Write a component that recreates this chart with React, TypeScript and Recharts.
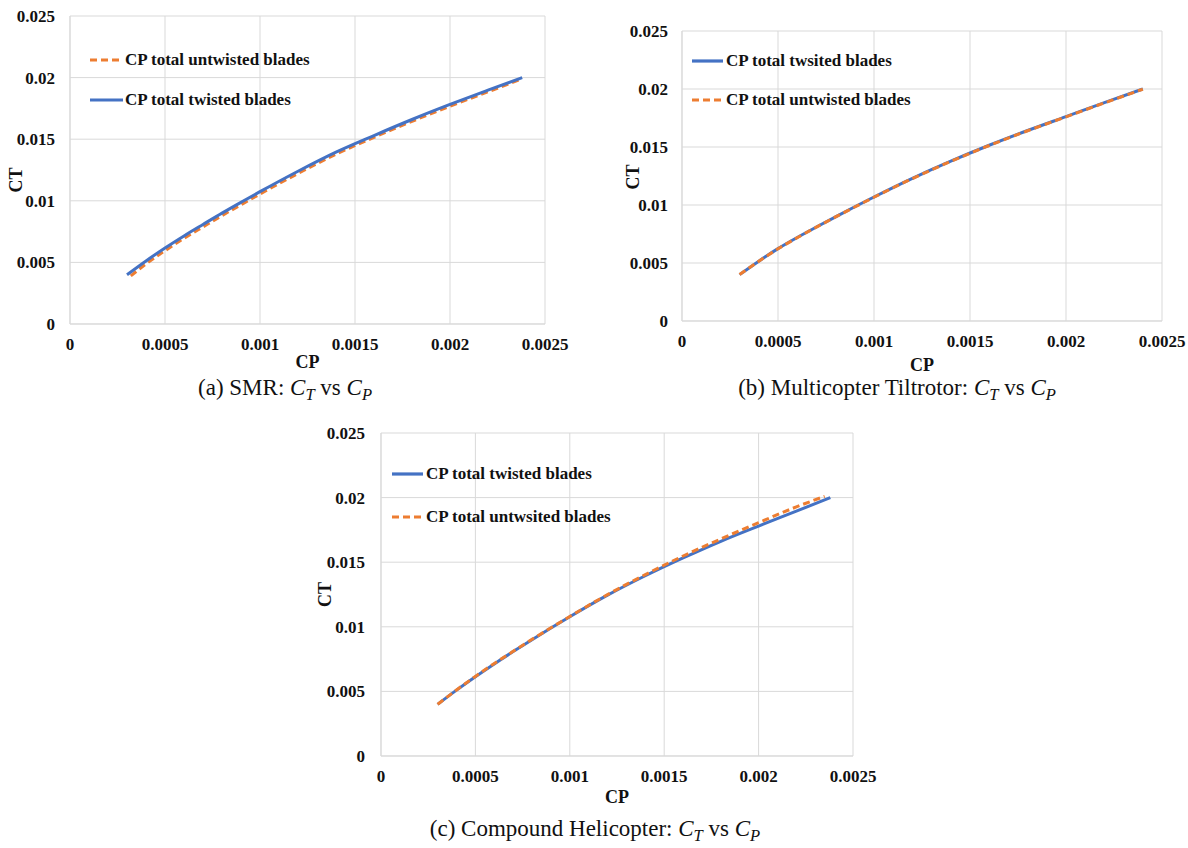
import React from 'react';
import { LineChart, Line, XAxis, YAxis, CartesianGrid, Legend, Label } from 'recharts';

const FONT = '"Liberation Serif", "Times New Roman", Times, serif';
const BLUE = '#4472C4';
const ORANGE = '#ED7D31';
const GRID = '#d9d9d9';
const TEXT = '#111111';

const X_TICKS = [0, 0.0005, 0.001, 0.0015, 0.002, 0.0025];
const Y_TICKS = [0, 0.005, 0.01, 0.015, 0.02, 0.025];

// (a) SMR
const CP_A_TWISTED = [0.0003, 0.0004, 0.0005, 0.0006, 0.0007, 0.0008, 0.0009, 0.001, 0.0012, 0.0014, 0.0016, 0.0018, 0.002, 0.0022, 0.00238];
const CT_A_TWISTED = [0.004, 0.00512, 0.00617, 0.00715, 0.00808, 0.009, 0.00988, 0.01074, 0.0124, 0.01395, 0.0153, 0.0166, 0.01782, 0.01898, 0.02];
const CP_A_UNTWISTED = [0.00032, 0.0004, 0.0005, 0.0006, 0.0007, 0.0008, 0.0009, 0.001, 0.0012, 0.0014, 0.0016, 0.0018, 0.002, 0.0022, 0.00238];
const CT_A_UNTWISTED = [0.0039, 0.00488, 0.00595, 0.00695, 0.00788, 0.0088, 0.00968, 0.01055, 0.01222, 0.01378, 0.01515, 0.01645, 0.01768, 0.01885, 0.0199];

// (b) Multicopter Tiltrotor
const CP_B_TWISTED = [0.0003, 0.0004, 0.0005, 0.0006, 0.0007, 0.0008, 0.0009, 0.001, 0.0012, 0.0014, 0.0016, 0.0018, 0.002, 0.0022, 0.0024];
const CT_B_TWISTED = [0.004, 0.00516, 0.00624, 0.0072, 0.0081, 0.00898, 0.00985, 0.01069, 0.0123, 0.01378, 0.01515, 0.01642, 0.01762, 0.01882, 0.02];
const CP_B_UNTWISTED = [0.0003, 0.0004, 0.0005, 0.0006, 0.0007, 0.0008, 0.0009, 0.001, 0.0012, 0.0014, 0.0016, 0.0018, 0.002, 0.0022, 0.0024];
const CT_B_UNTWISTED = [0.004, 0.00515, 0.00622, 0.00718, 0.00809, 0.00897, 0.00983, 0.01067, 0.01228, 0.01376, 0.01513, 0.0164, 0.0176, 0.0188, 0.01998];

// (c) Compound Helicopter
const CP_C_TWISTED = [0.0003, 0.0004, 0.0005, 0.0006, 0.0007, 0.0008, 0.0009, 0.001, 0.0012, 0.0014, 0.0016, 0.0018, 0.002, 0.0022, 0.00238];
const CT_C_TWISTED = [0.004, 0.0051, 0.00614, 0.00713, 0.00808, 0.009, 0.0099, 0.01078, 0.01245, 0.01395, 0.01533, 0.01662, 0.0178, 0.01895, 0.02];
const CP_C_UNTWISTED = [0.0003, 0.0004, 0.0005, 0.0006, 0.0007, 0.0008, 0.0009, 0.001, 0.0012, 0.0014, 0.0016, 0.0018, 0.002, 0.0022, 0.00235];
const CT_C_UNTWISTED = [0.004, 0.00511, 0.00616, 0.00716, 0.0081, 0.00903, 0.00992, 0.0108, 0.01249, 0.01404, 0.01548, 0.0168, 0.01806, 0.01928, 0.0201];

const LABEL_TWISTED = 'CP total twisted blades';
const LABEL_TWSITED = 'CP total twsited blades';
const LABEL_UNTWISTED = 'CP total untwisted blades';
const LABEL_UNTWSITED = 'CP total untwsited blades';

const zip = (cp: number[], ct: number[]) => cp.map((x, i) => ({ cp: x, ct: ct[i] }));

type Series = { name: string; data: { cp: number; ct: number }[]; color: string; dashed: boolean };

type ChartProps = {
  left: number;
  top: number;
  width: number;
  height: number;
  marginTop: number;
  marginRight: number;
  xAxisHeight: number;
  yAxisWidth: number;
  yTickMargin: number;
  ctX: number;
  ctShift: number;
  cpOffset: number;
  series: Series[];
  legendLeft: number;
  legendTop: number;
  legendRow: number;
  legendLine: number;
  legendGap: number;
};

const tickStyle = { fontFamily: FONT, fontSize: 17, fontWeight: 700, fill: TEXT };

function makeLegend(series: Series[], row: number, lineW: number, gap: number) {
  return () => (
    <div style={{ fontFamily: FONT, fontWeight: 700, fontSize: 17, color: TEXT }}>
      {series.map((s) => (
        <div key={s.name} style={{ height: row, display: 'flex', alignItems: 'center', whiteSpace: 'nowrap' }}>
          <svg width={lineW} height={6} style={{ display: 'block' }}>
            <line
              x1={0}
              y1={3}
              x2={lineW}
              y2={3}
              stroke={s.color}
              strokeWidth={3.2}
              strokeDasharray={s.dashed ? '7 4' : undefined}
            />
          </svg>
          <span style={{ marginLeft: gap }}>{s.name}</span>
        </div>
      ))}
    </div>
  );
}

function makeCtLabel(xPos: number, shift: number) {
  return (props: any) => {
    const vb = props.viewBox || {};
    const cx = (vb.x || 0) + xPos;
    const cy = (vb.y || 0) + (vb.height || 0) / 2 + shift;
    return (
      <text
        x={cx}
        y={cy}
        transform={`rotate(-90 ${cx} ${cy})`}
        textAnchor="middle"
        dominantBaseline="central"
        style={{ fontFamily: FONT, fontSize: 18, fontWeight: 700, fill: TEXT }}
      >
        CT
      </text>
    );
  };
}

function Chart(p: ChartProps) {
  return (
    <div style={{ position: 'absolute', left: p.left, top: p.top }}>
      <LineChart
        width={p.width}
        height={p.height}
        margin={{ top: p.marginTop, right: p.marginRight, bottom: 0, left: 0 }}
      >
        <CartesianGrid stroke={GRID} strokeWidth={1} />
        <XAxis
          dataKey="cp"
          type="number"
          domain={[0, 0.0025]}
          ticks={X_TICKS}
          interval={0}
          height={p.xAxisHeight}
          tickLine={false}
          tickSize={0}
          tickMargin={14}
          axisLine={{ stroke: GRID }}
          tick={tickStyle}
        >
          <Label
            value="CP"
            position="insideBottom"
            offset={p.cpOffset}
            style={{ fontFamily: FONT, fontSize: 18, fontWeight: 700, fill: TEXT }}
          />
        </XAxis>
        <YAxis
          type="number"
          domain={[0, 0.025]}
          ticks={Y_TICKS}
          interval={0}
          width={p.yAxisWidth}
          tickLine={false}
          tickSize={0}
          tickMargin={p.yTickMargin}
          axisLine={{ stroke: GRID }}
          tick={tickStyle}
        >
          <Label content={makeCtLabel(p.ctX, p.ctShift)} />
        </YAxis>
        <Legend
          layout="vertical"
          align="center"
          verticalAlign="middle"
          content={makeLegend(p.series, p.legendRow, p.legendLine, p.legendGap)}
          wrapperStyle={{ left: p.legendLeft, top: p.legendTop, width: 330, height: 'auto', margin: 0, padding: 0 }}
        />
        {p.series.map((s) => (
          <Line
            key={s.name}
            data={s.data}
            dataKey="ct"
            name={s.name}
            type="monotone"
            stroke={s.color}
            strokeWidth={3}
            strokeDasharray={s.dashed ? '7 4' : undefined}
            dot={false}
            activeDot={false}
            isAnimationActive={false}
          />
        ))}
      </LineChart>
    </div>
  );
}

const mathC = (sub: string) => (
  <span style={{ fontStyle: 'italic' }}>
    C
    <sub style={{ fontSize: '0.72em', verticalAlign: '-0.28em', lineHeight: 0 }}>{sub}</sub>
  </span>
);

function Caption({ cx, cy, label }: { cx: number; cy: number; label: string }) {
  return (
    <div
      style={{
        position: 'absolute',
        left: cx - 300,
        top: cy - 14,
        width: 600,
        textAlign: 'center',
        fontFamily: FONT,
        fontSize: 23,
        color: TEXT,
        lineHeight: '28px',
        whiteSpace: 'nowrap',
      }}
    >
      {label}: {mathC('T')} vs {mathC('P')}
    </div>
  );
}

export default function App() {
  const seriesA: Series[] = [
    { name: LABEL_UNTWISTED, data: zip(CP_A_UNTWISTED, CT_A_UNTWISTED), color: ORANGE, dashed: true },
    { name: LABEL_TWISTED, data: zip(CP_A_TWISTED, CT_A_TWISTED), color: BLUE, dashed: false },
  ];
  const seriesB: Series[] = [
    { name: LABEL_TWSITED, data: zip(CP_B_TWISTED, CT_B_TWISTED), color: BLUE, dashed: false },
    { name: LABEL_UNTWISTED, data: zip(CP_B_UNTWISTED, CT_B_UNTWISTED), color: ORANGE, dashed: true },
  ];
  const seriesC: Series[] = [
    { name: LABEL_TWISTED, data: zip(CP_C_TWISTED, CT_C_TWISTED), color: BLUE, dashed: false },
    { name: LABEL_UNTWSITED, data: zip(CP_C_UNTWISTED, CT_C_UNTWISTED), color: ORANGE, dashed: true },
  ];

  return (
    <div style={{ position: 'fixed', left: 0, top: 0, width: 1188, height: 848, background: '#fff', overflow: 'hidden' }}>
      <Chart
        left={0}
        top={0}
        width={590}
        height={378}
        marginTop={16}
        marginRight={45}
        xAxisHeight={54}
        yAxisWidth={70}
        yTickMargin={15}
        ctX={16}
        ctShift={10}
        cpOffset={10}
        series={seriesA}
        legendLeft={90}
        legendTop={40}
        legendRow={40}
        legendLine={33}
        legendGap={2}
      />
      <Chart
        left={600}
        top={0}
        width={588}
        height={376}
        marginTop={31}
        marginRight={26}
        xAxisHeight={55}
        yAxisWidth={82}
        yTickMargin={14}
        ctX={33}
        ctShift={1}
        cpOffset={5}
        series={seriesB}
        legendLeft={92}
        legendTop={41}
        legendRow={39}
        legendLine={31}
        legendGap={3}
      />
      <Chart
        left={300}
        top={420}
        width={600}
        height={390}
        marginTop={13}
        marginRight={47}
        xAxisHeight={54}
        yAxisWidth={81}
        yTickMargin={16}
        ctX={25}
        ctShift={0}
        cpOffset={7}
        series={seriesC}
        legendLeft={92}
        legendTop={32}
        legendRow={43}
        legendLine={31}
        legendGap={3}
      />
      <Caption cx={285} cy={388} label="(a) SMR" />
      <Caption cx={897} cy={388} label="(b) Multicopter Tiltrotor" />
      <Caption cx={595} cy={829} label="(c) Compound Helicopter" />
    </div>
  );
}
